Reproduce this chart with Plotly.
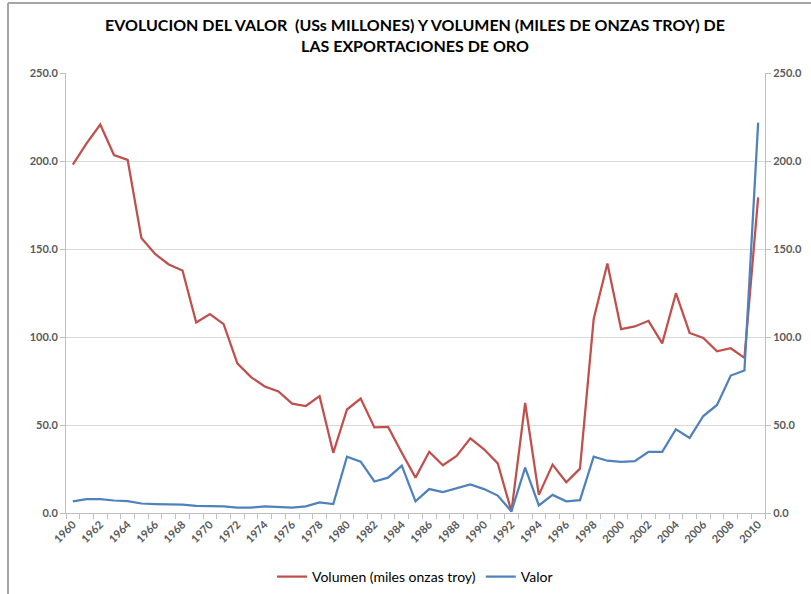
import plotly.graph_objects as go

years = list(range(1960, 2011))

volumen = [198, 210, 220.7, 203.4, 200.6, 156.3, 147.2, 141.2, 137.8, 108.2,
           113, 107.3, 85, 77.2, 71.9, 69.1, 62.1, 60.8, 66.4, 34.2,
           58.8, 65, 48.6, 48.9, 34.2, 20.1, 34.8, 27.1, 32.4, 42.4,
           36.2, 28.2, 0.9, 62.5, 10.3, 27.5, 17.5, 25.2, 110.2, 141.8,
           104.5, 106, 109.2, 96.4, 124.9, 102.3, 99.4, 91.9, 93.6, 88.1,
           179.3]

valor = [6.6, 7.9, 7.9, 7.1, 6.8, 5.4, 5.1, 5.1, 4.7, 4.0,
         3.8, 3.8, 3.0, 3.0, 3.8, 3.4, 3.0, 3.8, 6.0, 5.1,
         32, 29.2, 17.9, 20.1, 26.9, 6.6, 13.6, 11.9, 14.1, 16.2,
         13.6, 9.9, 0.9, 25.8, 4.3, 10.3, 6.6, 7.3, 32, 29.7,
         29, 29.5, 34.8, 34.8, 47.6, 42.7, 55.1, 61.4, 78.1, 81,
         221.8]

x_ticks = list(range(1960, 2011, 2))
y_ticks = [0, 50, 100, 150, 200, 250]
y_labels = ["%.1f" % v for v in y_ticks]

title = ("<b>EVOLUCION DEL VALOR  (USs MILLONES) Y VOLUMEN (MILES DE ONZAS TROY) DE<br>"
         "LAS EXPORTACIONES DE ORO</b>")

FONT = "Lato"
TICKFONT = dict(family=FONT, size=11, color="#595959", weight="bold")

fig = go.Figure()
fig.add_trace(go.Scatter(x=years, y=volumen, name="Volumen (miles onzas troy)",
                         mode="lines", line=dict(color="#C0504D", width=2.25)))
fig.add_trace(go.Scatter(x=years, y=valor, name="Valor", yaxis="y2",
                         mode="lines", line=dict(color="#4F81BD", width=2.25)))

fig.update_layout(
    width=811, height=594,
    paper_bgcolor="white", plot_bgcolor="white",
    margin=dict(l=66, r=46, t=73, b=81, autoexpand=False),
    title=dict(text=title, x=415 / 811, xanchor="center", xref="container",
               y=(594 - 31) / 594, yanchor="middle", yref="container",
               font=dict(family=FONT, size=16, color="#000000")),
    showlegend=True,
    legend=dict(orientation="h", x=415 / 811, xanchor="center", xref="container",
                y=(594 - 577) / 594, yanchor="middle", yref="container",
                font=dict(family=FONT, size=14, color="#000000")),
    xaxis=dict(range=[1959.5, 2010.5], tickmode="array", tickvals=x_ticks,
               ticktext=[str(v) for v in x_ticks], tickangle=-45,
               tickfont=TICKFONT, showgrid=False, ticks="", ticklen=0,
               showline=True, linecolor="#BFBFBF", linewidth=1,
               minor=dict(tick0=1959.5, dtick=1, ticks="outside", ticklen=5,
                          tickcolor="#BFBFBF", showgrid=False),
               zeroline=False, automargin=False),
    yaxis=dict(range=[0, 250], tickmode="array", tickvals=y_ticks, ticktext=y_labels,
               tickfont=TICKFONT, showgrid=True, gridcolor="#D9D9D9", gridwidth=1,
               showline=True, linecolor="#BFBFBF", linewidth=1,
               ticks="outside", ticklen=5, tickcolor="#BFBFBF", zeroline=False,
               automargin=False),
    yaxis2=dict(range=[0, 250], tickmode="array", tickvals=y_ticks, ticktext=y_labels,
                overlaying="y", side="right", tickfont=TICKFONT, showgrid=False,
                showline=True, linecolor="#BFBFBF", linewidth=1,
                ticks="outside", ticklen=5, tickcolor="#BFBFBF", zeroline=False,
                automargin=False),
)

# outer chart border (left and top edges visible in the reference)
fig.add_shape(type="line", xref="paper", yref="paper",
              x0=(8 - 66) / 699, x1=(8 - 66) / 699, y0=(513 - 600) / 440, y1=(513 - 3) / 440,
              line=dict(color="#A6A6A6", width=2))
fig.add_shape(type="line", xref="paper", yref="paper",
              x0=(8 - 66) / 699, x1=(820 - 66) / 699, y0=(513 - 3) / 440, y1=(513 - 3) / 440,
              line=dict(color="#A6A6A6", width=2))

fig.write_html("out.html", config={"displayModeBar": False},
               post_script="document.body.style.margin='0';document.body.style.overflow='hidden';")
